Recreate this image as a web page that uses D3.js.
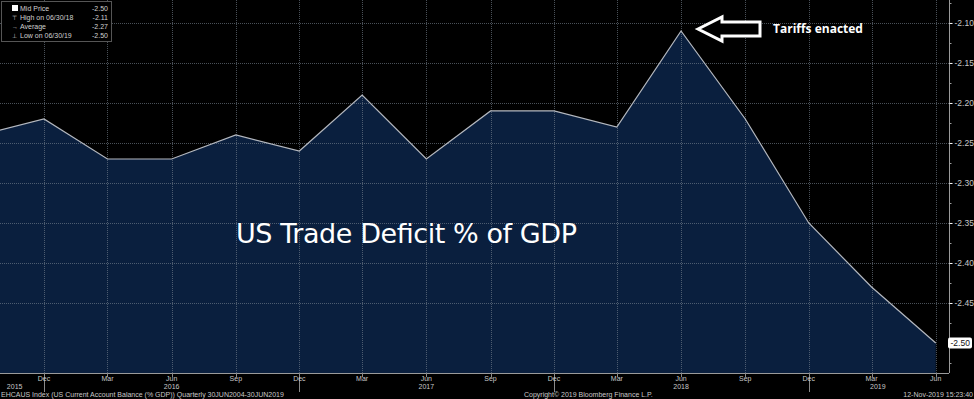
<!DOCTYPE html>
<html>
<head>
<meta charset="utf-8">
<script src="https://cdn.jsdelivr.net/npm/d3@7"></script>
<style>
  html, body { margin: 0; padding: 0; background: #000; }
  svg { display: block; font-family: "Liberation Sans", Arial, sans-serif; }
</style>
</head>
<body>
<div id="chart"></div>
<script>
// quarterly data (month the point sits on)
var quarters = ["2015-09", "2015-12", "2016-03", "2016-06", "2016-09", "2016-12", "2017-03",
    "2017-06", "2017-09", "2017-12", "2018-03", "2018-06", "2018-09", "2018-12", "2019-03", "2019-06"];
var values = [-2.24, -2.22, -2.27, -2.27, -2.24, -2.26, -2.19,
    -2.27, -2.21, -2.21, -2.23, -2.11, -2.22, -2.35, -2.43, -2.50];
var monthNames = ["Dec", "Mar", "Jun", "Sep", "Dec", "Mar", "Jun", "Sep", "Dec", "Mar", "Jun", "Sep", "Dec", "Mar", "Jun"];
var yearLabels = ["2015", "2016", "2017", "2018", "2019"];
var yearAnchors = ["2015-10-20", "2016-06-01", "2017-06-01", "2018-06-01", "2019-03-10"];
var yTicks = [-2.10, -2.15, -2.20, -2.25, -2.30, -2.35, -2.40, -2.45];
var legendRows = [["Mid Price", "-2.50"], ["High on 06/30/18", "-2.11"], ["Average", "-2.27"], ["Low on 06/30/19", "-2.50"]];
var lastValue = values[values.length - 1];

var width = 974, height = 399;
var plotRight = 949, plotBottom = 373;

var parseMonth = d3.timeParse("%Y-%m");
var parseDay = d3.timeParse("%Y-%m-%d");
var data = quarters.map(function(q, i) { return { date: parseMonth(q), value: values[i] }; });
var fmt = function(v) { return "-" + d3.format(".2f")(-v); };

var svg = d3.select("#chart").append("svg")
    .attr("width", width)
    .attr("height", height);

var x = d3.scaleTime()
    .domain([parseDay("2015-09-29"), parseDay("2019-06-20")])
    .range([0, plotRight]);

var y = d3.scaleLinear()
    .domain([-2.0713, -2.5375])
    .range([0, plotBottom]);

svg.append("defs").append("clipPath").attr("id", "plotclip")
    .append("rect").attr("x", 0).attr("y", 0).attr("width", plotRight).attr("height", plotBottom);

var plot = svg.append("g").attr("clip-path", "url(#plotclip)");

// area + line
var area = d3.area()
    .x(function(d) { return x(d.date); })
    .y0(plotBottom)
    .y1(function(d) { return y(d.value); });

var line = d3.line()
    .x(function(d) { return x(d.date); })
    .y(function(d) { return y(d.value); });

plot.append("path")
    .datum(data)
    .attr("d", area)
    .attr("fill", "#0a1f3e");

// grid
var tickDates = data.slice(1).map(function(d) { return d.date; });
plot.append("g").selectAll("line")
    .data(tickDates)
    .enter().append("line")
    .attr("x1", function(d) { return Math.round(x(d)) + 0.5; })
    .attr("x2", function(d) { return Math.round(x(d)) + 0.5; })
    .attr("y1", 0).attr("y2", plotBottom)
    .attr("stroke", "#7a8592")
    .attr("stroke-opacity", 0.6)
    .attr("stroke-dasharray", "1,1");

plot.append("g").selectAll("line")
    .data(yTicks)
    .enter().append("line")
    .attr("x1", 0).attr("x2", plotRight)
    .attr("y1", function(d) { return Math.round(y(d)) + 0.5; })
    .attr("y2", function(d) { return Math.round(y(d)) + 0.5; })
    .attr("stroke", "#7a8592")
    .attr("stroke-opacity", 0.6)
    .attr("stroke-dasharray", "1,1");

plot.append("path")
    .datum(data)
    .attr("d", line)
    .attr("fill", "none")
    .attr("stroke", "#b4b8bf")
    .attr("stroke-width", 1.2);

// right axis
var yAxis = d3.axisRight(y)
    .tickValues(yTicks)
    .tickSize(4)
    .tickFormat(fmt);

var gy = svg.append("g")
    .attr("transform", "translate(" + (plotRight + 0.5) + ",0)")
    .call(yAxis);
gy.select(".domain").attr("stroke", "#9a9a9a").attr("d", "M0,0V" + plotBottom);
gy.selectAll(".tick line").attr("stroke", "#ffffff").attr("x2", 3);
gy.selectAll(".tick text").attr("x", 5).attr("font-size", 8.5)
    .attr("font-family", "'Liberation Sans', Arial, sans-serif").attr("fill", "#c8c8c8");

// minor y ticks
var minor = d3.range(-2.075, -2.54, -0.05);
gy.append("g").selectAll("line")
    .data(minor)
    .enter().append("line")
    .attr("x1", 0).attr("x2", 2)
    .attr("y1", function(d) { return Math.round(y(d)) + 0.5; })
    .attr("y2", function(d) { return Math.round(y(d)) + 0.5; })
    .attr("stroke", "#9a9a9a");

// last value box
var lastY = y(lastValue);
svg.append("rect")
    .attr("x", plotRight - 1).attr("y", lastY - 5.5)
    .attr("width", 24).attr("height", 11)
    .attr("rx", 2)
    .attr("fill", "#ffffff");
svg.append("text")
    .attr("x", plotRight + 1.5).attr("y", lastY + 3)
    .attr("font-size", 8.5)
    .attr("fill", "#111")
    .text(fmt(lastValue));

// bottom axis
svg.append("line")
    .attr("x1", 0).attr("x2", plotRight)
    .attr("y1", plotBottom + 0.5).attr("y2", plotBottom + 0.5)
    .attr("stroke", "#9a9a9a");

var gx = svg.append("g");
gx.selectAll("line.tk")
    .data(tickDates)
    .enter().append("line")
    .attr("class", "tk")
    .attr("x1", function(d) { return Math.round(x(d)) + 0.5; })
    .attr("x2", function(d) { return Math.round(x(d)) + 0.5; })
    .attr("y1", plotBottom).attr("y2", function(d, i) { return monthNames[i] === "Dec" ? 392 : plotBottom + 4; })
    .attr("stroke", "#8a8a8a");

gx.selectAll("text.mo")
    .data(tickDates)
    .enter().append("text")
    .attr("class", "mo")
    .attr("x", function(d) { return x(d); })
    .attr("y", 381)
    .attr("text-anchor", "middle")
    .attr("font-size", 7)
    .attr("fill", "#c8c8c8")
    .text(function(d, i) { return monthNames[i]; });

gx.selectAll("text.yr")
    .data(yearLabels)
    .enter().append("text")
    .attr("class", "yr")
    .attr("x", function(d, i) { return x(parseDay(yearAnchors[i])); })
    .attr("y", 389)
    .attr("text-anchor", "middle")
    .attr("font-size", 7)
    .attr("fill", "#c8c8c8")
    .text(function(d) { return d; });

// footer
var footer = svg.append("g").attr("font-size", 7).attr("fill", "#c8c8c8");
footer.append("text").attr("x", 1).attr("y", 397)
    .text("EHCAUS Index (US Current Account Balance (% GDP))  Quarterly 30JUN2004-30JUN2019");
footer.append("text").attr("x", 524).attr("y", 397)
    .text("Copyright\u00a9 2019 Bloomberg Finance L.P.");
footer.append("text").attr("x", 973).attr("y", 397).attr("text-anchor", "end")
    .text("12-Nov-2019 15:23:40");

// legend
var legend = svg.append("g").attr("font-size", 7).attr("fill", "#d0d0d0");
legend.append("rect")
    .attr("x", 1.5).attr("y", 1.5).attr("width", 110).attr("height", 40)
    .attr("fill", "#000").attr("stroke", "#555");
legend.append("rect").attr("x", 12).attr("y", 5).attr("width", 6).attr("height", 6).attr("fill", "#fff");
var marks = ["", "\u22a4", "\u2192", "\u22a5"];
legendRows.forEach(function(r, i) {
    var yy = 11 + i * 9;
    if (i > 0) legend.append("text").attr("x", 12).attr("y", yy).attr("font-size", 6).text(marks[i]);
    legend.append("text").attr("x", 20).attr("y", yy).text(r[0]);
    legend.append("text").attr("x", 108).attr("y", yy).attr("text-anchor", "end").text(r[1]);
});

// annotation
var arrow = "M698,29 L722,17 L722,22 L760,22 L760,36 L722,36 L722,41 Z";
svg.append("path")
    .attr("d", arrow)
    .attr("fill", "#000")
    .attr("stroke", "#fff")
    .attr("stroke-width", 3)
    .attr("stroke-linejoin", "miter");

svg.append("text")
    .attr("x", 773).attr("y", 33)
    .attr("font-family", "'Open Sans', sans-serif")
    .attr("font-weight", "bold")
    .attr("font-size", 12)
    .attr("fill", "#fff")
    .text("Tariffs enacted");

svg.append("text")
    .attr("x", 236).attr("y", 243)
    .attr("font-family", "'DejaVu Sans', sans-serif")
    .attr("font-size", 27)
    .attr("textLength", 341)
    .attr("fill", "#fff")
    .text("US Trade Deficit % of GDP");
</script>
</body>
</html>
